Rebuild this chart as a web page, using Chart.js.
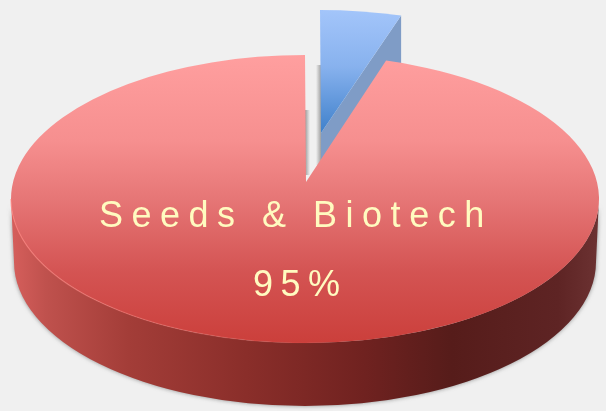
<!DOCTYPE html>
<html>
<head>
<meta charset="utf-8">
<style>
  html, body { margin: 0; padding: 0; background: #f0f0f0; }
  canvas { display: block; }
</style>
<script src="https://cdn.jsdelivr.net/npm/chart.js@4/dist/chart.umd.min.js"></script>
</head>
<body>
<canvas id="pie" width="606" height="411"></canvas>
<script>
const categories = ['Other', 'Seeds & Biotech'];
const shares = [5, 95];
const sliceColors = ['#6f9fe0', '#e56a68'];
const centerLabels = ['Seeds & Biotech', '95%'];

// squashed pie: ellipse + cut apex, the exploded slice is shifted by explode
const tilt = { cx: 305, cy: 199, rx: 294, ry: 144, apexX: 306, apexY: 182, depth: 63 };
const explode = [{ x: 15, y: -45, apexY: 133 }, { x: 0, y: 0, apexY: 182 }];

// perspective: the pie centre lands on the apex, so far-side angles get narrower
function warp(a) {
  const e = (tilt.apexY - tilt.cy) / tilt.ry;
  const d = 1 + e * Math.sin(a);
  return Math.atan2((Math.sin(a) + e) / d, Math.cos(a) * Math.sqrt(1 - e * e) / d);
}

function onRim(a, dx, dy) {
  return { x: tilt.cx + dx + tilt.rx * Math.cos(a), y: tilt.cy + dy + tilt.ry * Math.sin(a) };
}

function slicePath(ctx, el, i) {
  const off = explode[i];
  ctx.beginPath();
  ctx.moveTo(tilt.apexX + off.x, off.apexY);
  ctx.ellipse(tilt.cx + off.x, tilt.cy + off.y, tilt.rx, tilt.ry, 0, warp(el.startAngle), warp(el.endAngle));
  ctx.closePath();
}

function vGrad(ctx, y0, y1, stops) {
  const g = ctx.createLinearGradient(0, y0, 0, y1);
  stops.forEach(s => g.addColorStop(s[0], s[1]));
  return g;
}

const pie3d = {
  id: 'pie3d',
  beforeDatasetsDraw(chart) {
    const ctx = chart.ctx;
    const arcs = chart.getDatasetMeta(0).data;
    const blue = arcs[0], red = arcs[1];
    const o = explode[0];

    ctx.save();

    // soft shadows seen through the gap
    let g = ctx.createLinearGradient(tilt.apexX + o.x - 5, 0, tilt.apexX + o.x, 0);
    g.addColorStop(0, 'rgba(150,150,150,0)');
    g.addColorStop(1, 'rgba(150,150,150,0.9)');
    ctx.fillStyle = g;
    ctx.fillRect(tilt.apexX + o.x - 5, 65, 5, 100);
    g = ctx.createLinearGradient(tilt.apexX - 1, 0, tilt.apexX + 4, 0);
    g.addColorStop(0, 'rgba(140,140,140,0.9)');
    g.addColorStop(1, 'rgba(150,150,150,0)');
    ctx.fillStyle = g;
    ctx.fillRect(tilt.apexX - 1, 110, 5, 65);

    // blue slice: cut face first, then the top
    const p = onRim(warp(blue.endAngle), o.x, o.y);
    ctx.beginPath();
    ctx.moveTo(p.x, p.y);
    ctx.lineTo(tilt.apexX + o.x, o.apexY);
    ctx.lineTo(tilt.apexX + o.x, o.apexY + tilt.depth);
    ctx.lineTo(p.x, p.y + tilt.depth);
    ctx.closePath();
    ctx.fillStyle = '#7f9cc6';
    ctx.fill();

    slicePath(ctx, blue, 0);
    ctx.fillStyle = vGrad(ctx, 10, 135, [[0, '#a3c5fa'], [0.45, '#88b2ee'], [1, '#3d7fca']]);
    ctx.fill();

    // red outer wall
    ctx.save();
    ctx.shadowColor = 'rgba(60,60,60,0.55)';
    ctx.shadowBlur = 4;
    ctx.beginPath();
    ctx.ellipse(tilt.cx, tilt.cy, tilt.rx, tilt.ry, 0, Math.PI, 0, true);
    ctx.lineTo(tilt.cx + tilt.rx - 3, tilt.cy + tilt.depth);
    ctx.ellipse(tilt.cx, tilt.cy + tilt.depth, tilt.rx - 3, tilt.ry, 0, 0, Math.PI);
    ctx.closePath();
    g = ctx.createLinearGradient(tilt.cx - tilt.rx, 0, tilt.cx + tilt.rx, 0);
    g.addColorStop(0, '#d65f5c');
    g.addColorStop(0.06, '#bf514d');
    g.addColorStop(0.2, '#a33d38');
    g.addColorStop(0.4, '#8a2e2a');
    g.addColorStop(0.6, '#702220');
    g.addColorStop(0.75, '#561c1a');
    g.addColorStop(0.93, '#5e2424');
    g.addColorStop(1, '#6c3232');
    ctx.fillStyle = g;
    ctx.fill();
    ctx.restore();

    // red top
    slicePath(ctx, red, 1);
    ctx.fillStyle = vGrad(ctx, 55, 343, [[0, '#ff9f9f'], [0.3, '#f68f8f'], [0.5, '#e67676'], [0.75, '#d45453'], [1, '#cb3f3b']]);
    ctx.fill();

    // bright rim on the front left
    ctx.beginPath();
    ctx.ellipse(tilt.cx, tilt.cy, tilt.rx, tilt.ry, 0, Math.PI, Math.PI * 0.45, true);
    g = ctx.createLinearGradient(tilt.cx - tilt.rx, 0, tilt.cx + 30, 0);
    g.addColorStop(0, 'rgba(255,130,125,0.7)');
    g.addColorStop(1, 'rgba(255,130,125,0)');
    ctx.strokeStyle = g;
    ctx.lineWidth = 1.2;
    ctx.stroke();

    ctx.restore();
    return false;
  },
  afterDraw(chart) {
    const ctx = chart.ctx;
    ctx.save();
    ctx.fillStyle = '#fffbc0';
    ctx.textAlign = 'left';
    ctx.textBaseline = 'alphabetic';
    ctx.font = '36px "Liberation Sans"';
    ctx.letterSpacing = '8.5px';
    ctx.fillText(centerLabels[0], 99, 227);
    ctx.letterSpacing = '7.5px';
    ctx.fillText(centerLabels[1], 253, 296);
    ctx.restore();
  }
};

new Chart(document.getElementById('pie'), {
  type: 'pie',
  data: {
    labels: categories,
    datasets: [{ data: shares, backgroundColor: sliceColors, borderWidth: 0 }]
  },
  options: {
    responsive: false,
    animation: false,
    plugins: {
      legend: { display: false },
      tooltip: { enabled: false }
    }
  },
  plugins: [pie3d]
});
</script>
</body>
</html>
